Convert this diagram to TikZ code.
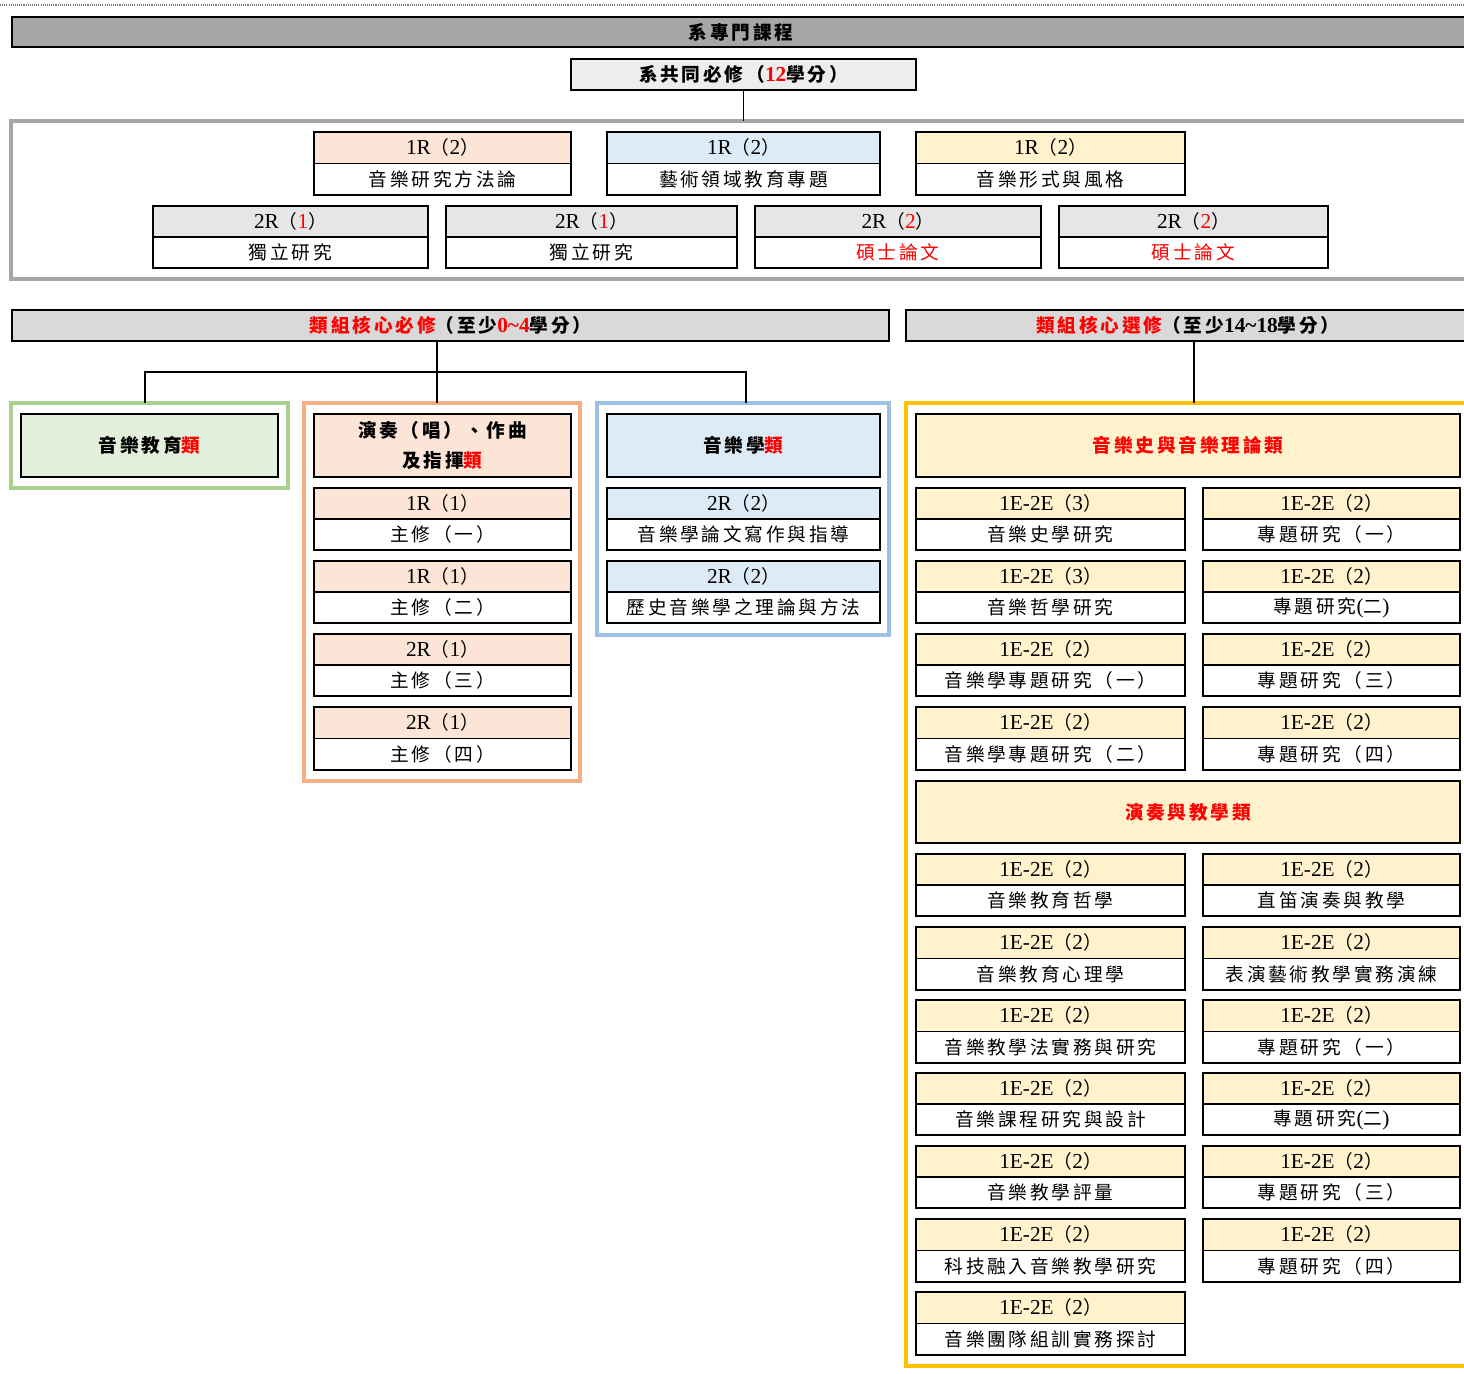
\documentclass[tikz,border=0pt]{standalone}
\usepackage{fontspec}
\setmainfont{Liberation Serif}
\newfontfamily\cjkfam[LetterSpace=15]{Noto Sans CJK TC}
\newcommand\cjk{\cjkfam\fontsize{14}{19}\selectfont}
\newcommand\C[1]{{\cjk #1}}
\newcommand\R[1]{\textcolor{red}{#1}}
\newcommand\cpar[2]{#1\C{（}#2\C{）}}
\definecolor{hdrgray}{HTML}{A6A6A6}
\definecolor{sysgray}{HTML}{EDEDED}
\definecolor{grpgray}{HTML}{D9D9D9}
\definecolor{lgray}{HTML}{E6E6E6}
\definecolor{peach}{HTML}{FCE4D6}
\definecolor{lblue}{HTML}{DDEBF7}
\definecolor{lyellow}{HTML}{FFF2CC}
\definecolor{lgreen}{HTML}{E2EFDA}
\definecolor{gborder}{HTML}{A9D08E}
\definecolor{oborder}{HTML}{F4B084}
\definecolor{bborder}{HTML}{9BC2E6}
\definecolor{yborder}{HTML}{FFC000}
\tikzset{
  every node/.style={font=\fontsize{16}{19}\selectfont},
  cell/.style={draw=black,line width=1.4pt,inner sep=0pt,outer sep=0pt,rectangle},
  frame/.style={rectangle,line width=2.6pt,inner sep=0pt,outer sep=0pt,fill=none},
  conn/.style={draw=black,line width=1.2pt},
}
\newcommand\crs[8]{%
\node[cell,fill=#6,anchor=north west,minimum width={(#4-#2)*0.75pt},minimum height={(#5-#3)*0.375pt}] (#1t) at (#2,#3) {#7};
\node[cell,fill=white,anchor=north,minimum width={(#4-#2)*0.75pt},minimum height={(#5-#3)*0.375pt}] (#1b) at (#1t.south) {#8};}
\newcommand\grp[7]{%
\node[cell,fill=#6,anchor=north west,align=center,minimum width={(#4-#2)*0.75pt},minimum height={(#5-#3)*0.75pt}] (#1) at (#2,#3) {#7};}
\newcommand\frm[6]{%
\node[frame,draw=#6,anchor=north west,minimum width={(#4-#2)*0.75pt},minimum height={(#5-#3)*0.75pt}] (#1) at (#2,#3) {};}
\begin{document}
\begin{tikzpicture}[x=0.75pt,y=-0.75pt]
\useasboundingbox (0,0) rectangle (1464,1374);
\clip (0,0) rectangle (1464,1374);
\fill[white] (0,0) rectangle (1464,1374);
% dotted top line
\draw[gray,line width=0.8pt,dash pattern=on 0.8pt off 0.8pt] (0,5) -- (1464,5);
% main header
\grp{mainhdr}{12}{17}{1470}{47}{hdrgray}{\bfseries\C{系專門課程}}
\grp{sys}{571}{59}{916}{90}{sysgray}{\bfseries\C{系共同必修（}\R{12}\C{學分）}}
% big gray frame
\frm{big}{11}{121}{1475}{279}{hdrgray}
\draw[conn] (sys.south) -- (sys.south |- big.north);
% row 1
\crs{a}{314}{132}{571}{195}{peach}{\cpar{1R}{2}}{\C{音樂研究方法論}}
\crs{b}{607}{132}{880}{195}{lblue}{\cpar{1R}{2}}{\C{藝術領域教育專題}}
\crs{c}{916}{132}{1185}{195}{lyellow}{\cpar{1R}{2}}{\C{音樂形式與風格}}
% row 2
\crs{d}{153}{206}{428}{268}{lgray}{\cpar{2R}{\R{1}}}{\C{獨立研究}}
\crs{e}{446}{206}{737}{268}{lgray}{\cpar{2R}{\R{1}}}{\C{獨立研究}}
\crs{f}{755}{206}{1041}{268}{lgray}{\cpar{2R}{\R{2}}}{\C{\R{碩士論文}}}
\crs{g}{1059}{206}{1328}{268}{lgray}{\cpar{2R}{\R{2}}}{\C{\R{碩士論文}}}
% group headers
\grp{lh}{12}{310}{889}{341}{grpgray}{\bfseries\C{\R{類組核心必修}（至少}\R{0\textasciitilde4}\C{學分）}}
\grp{rh}{906}{310}{1470}{341}{grpgray}{\bfseries\C{\R{類組核心選修}（至少}14\textasciitilde18\C{學分）}}
% frames
\frm{green}{11}{403}{288}{488}{gborder}
\frm{orange}{304}{403}{580}{781}{oborder}
\frm{blue}{597}{403}{889}{635}{bborder}
\frm{yellow}{906}{403}{1475}{1366}{yborder}
% connectors
\coordinate (jL) at (437,372);
\coordinate (jG) at (145,372);
\coordinate (jB) at (746,372);
\coordinate (jR) at (1194,372);
\draw[conn] (lh.south -| jL) -- (jL |- orange.north);
\draw[conn] (jG |- green.north) -- (jG) -- (jB) -- (jB |- blue.north);
\draw[conn] (rh.south -| jR) -- (jR |- yellow.north);
% green group
\grp{gh}{21}{414}{278}{477}{lgreen}{\bfseries\C{音樂教育\R{類}}}
% orange group
\node[cell,fill=peach,anchor=north west,align=center,minimum width={257*0.75pt},minimum height={63*0.75pt},font=\fontsize{16}{22}\selectfont\bfseries] (oh) at (314,414) {\C{演奏（唱）、作曲}\\\C{及指揮\R{類}}};
\crs{o1}{314}{488}{571}{550}{peach}{\cpar{1R}{1}}{\C{主修（一）}}
\crs{o2}{314}{561}{571}{623}{peach}{\cpar{1R}{1}}{\C{主修（二）}}
\crs{o3}{314}{634}{571}{696}{peach}{\cpar{2R}{1}}{\C{主修（三）}}
\crs{o4}{314}{707}{571}{770}{peach}{\cpar{2R}{1}}{\C{主修（四）}}
% blue group
\grp{bh}{607}{414}{880}{477}{lblue}{\bfseries\C{音樂學\R{類}}}
\crs{b1}{607}{488}{880}{550}{lblue}{\cpar{2R}{2}}{\C{音樂學論文寫作與指導}}
\crs{b2}{607}{561}{880}{623}{lblue}{\cpar{2R}{2}}{\C{歷史音樂學之理論與方法}}
% yellow group 1
\grp{yh1}{916}{414}{1460}{477}{lyellow}{\bfseries\C{\R{音樂史與音樂理論類}}}
\crs{y1}{916}{488}{1185}{550}{lyellow}{\cpar{1E-2E}{3}}{\C{音樂史學研究}}
\crs{y2}{916}{561}{1185}{623}{lyellow}{\cpar{1E-2E}{3}}{\C{音樂哲學研究}}
\crs{y3}{916}{634}{1185}{696}{lyellow}{\cpar{1E-2E}{2}}{\C{音樂學專題研究（一）}}
\crs{y4}{916}{707}{1185}{770}{lyellow}{\cpar{1E-2E}{2}}{\C{音樂學專題研究（二）}}
\crs{z1}{1203}{488}{1460}{550}{lyellow}{\cpar{1E-2E}{2}}{\C{專題研究（一）}}
\crs{z2}{1203}{561}{1460}{623}{lyellow}{\cpar{1E-2E}{2}}{\C{專題研究}(\C{二})}
\crs{z3}{1203}{634}{1460}{696}{lyellow}{\cpar{1E-2E}{2}}{\C{專題研究（三）}}
\crs{z4}{1203}{707}{1460}{770}{lyellow}{\cpar{1E-2E}{2}}{\C{專題研究（四）}}
% yellow group 2
\grp{yh2}{916}{781}{1460}{843}{lyellow}{\bfseries\C{\R{演奏與教學類}}}
\crs{y5}{916}{854}{1185}{916}{lyellow}{\cpar{1E-2E}{2}}{\C{音樂教育哲學}}
\crs{y6}{916}{927}{1185}{990}{lyellow}{\cpar{1E-2E}{2}}{\C{音樂教育心理學}}
\crs{y7}{916}{1000}{1185}{1063}{lyellow}{\cpar{1E-2E}{2}}{\C{音樂教學法實務與研究}}
\crs{y8}{916}{1073}{1185}{1135}{lyellow}{\cpar{1E-2E}{2}}{\C{音樂課程研究與設計}}
\crs{y9}{916}{1146}{1185}{1208}{lyellow}{\cpar{1E-2E}{2}}{\C{音樂教學評量}}
\crs{y10}{916}{1219}{1185}{1282}{lyellow}{\cpar{1E-2E}{2}}{\C{科技融入音樂教學研究}}
\crs{y11}{916}{1292}{1185}{1355}{lyellow}{\cpar{1E-2E}{2}}{\C{音樂團隊組訓實務探討}}
\crs{z5}{1203}{854}{1460}{916}{lyellow}{\cpar{1E-2E}{2}}{\C{直笛演奏與教學}}
\crs{z6}{1203}{927}{1460}{990}{lyellow}{\cpar{1E-2E}{2}}{\C{表演藝術教學實務演練}}
\crs{z7}{1203}{1000}{1460}{1063}{lyellow}{\cpar{1E-2E}{2}}{\C{專題研究（一）}}
\crs{z8}{1203}{1073}{1460}{1135}{lyellow}{\cpar{1E-2E}{2}}{\C{專題研究}(\C{二})}
\crs{z9}{1203}{1146}{1460}{1208}{lyellow}{\cpar{1E-2E}{2}}{\C{專題研究（三）}}
\crs{z10}{1203}{1219}{1460}{1282}{lyellow}{\cpar{1E-2E}{2}}{\C{專題研究（四）}}
\end{tikzpicture}
\end{document}
